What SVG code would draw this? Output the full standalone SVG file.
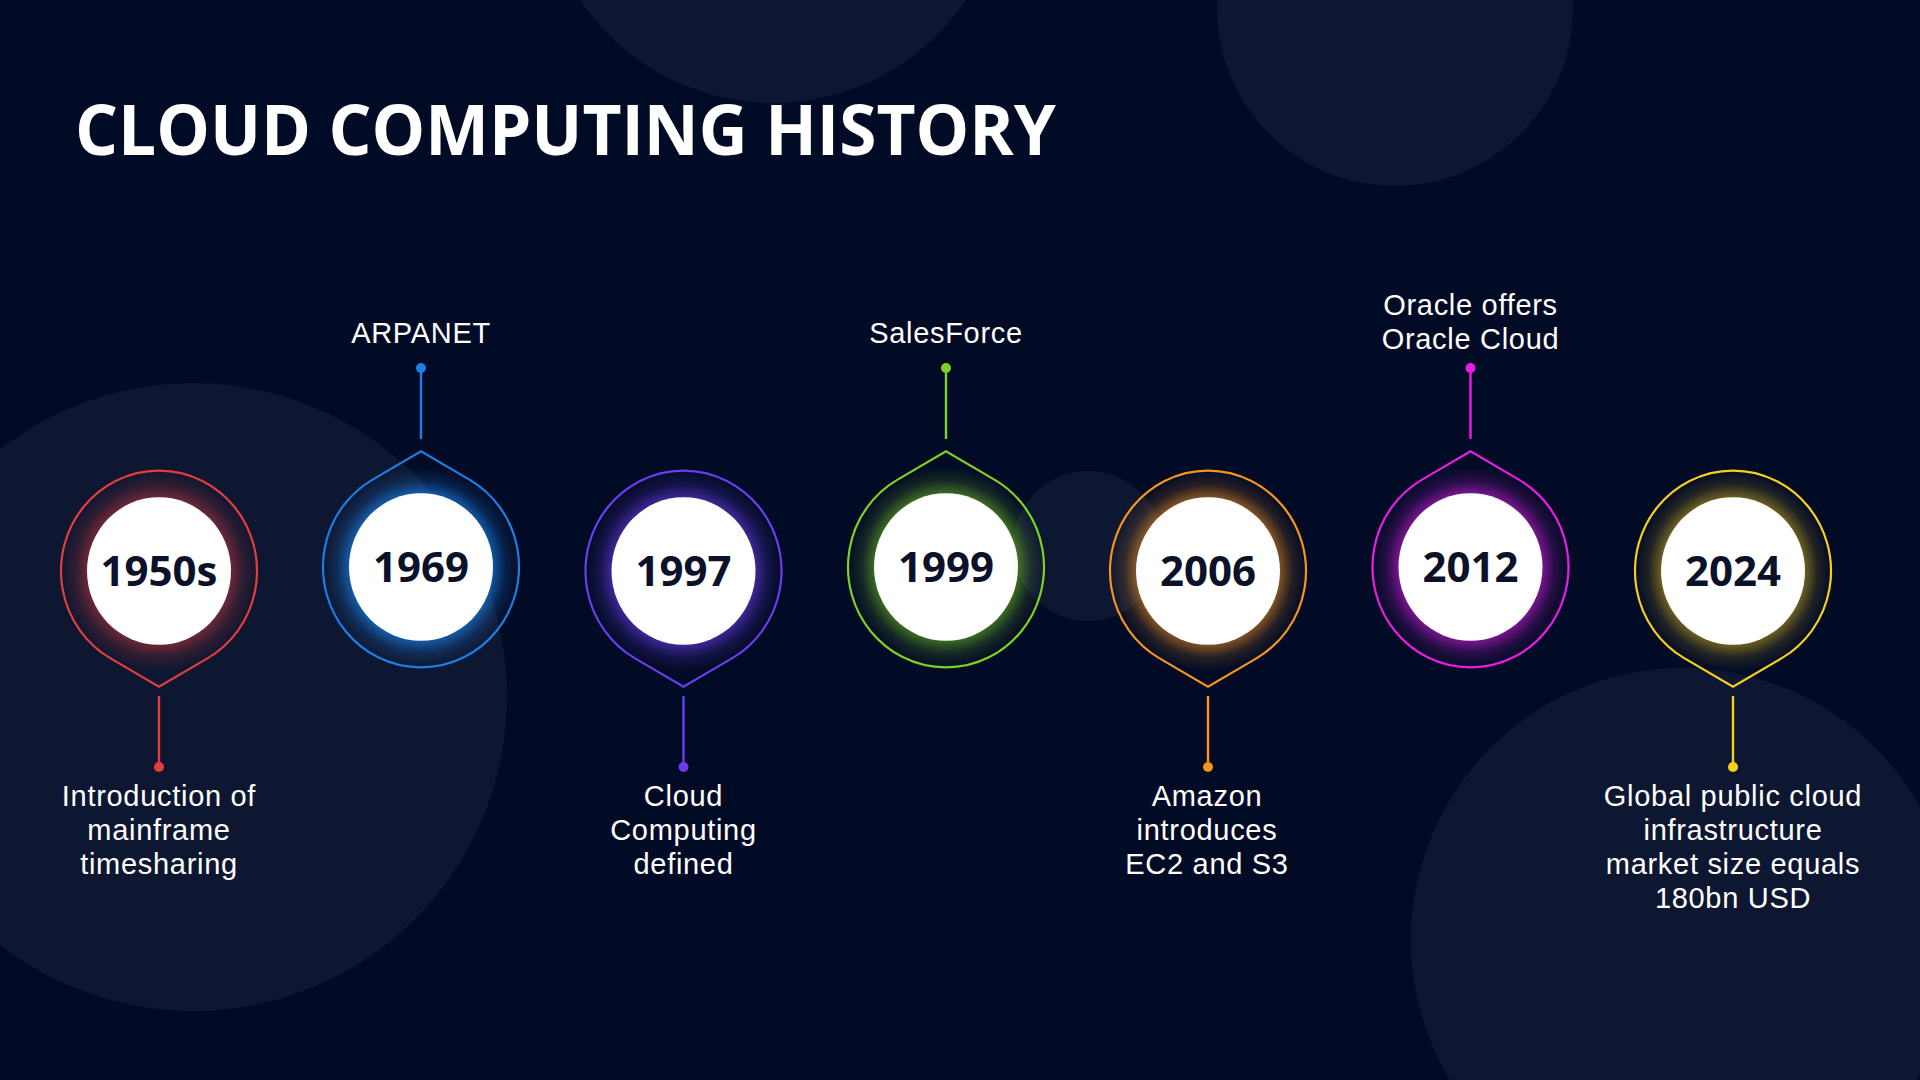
<svg xmlns="http://www.w3.org/2000/svg" width="1920" height="1080" viewBox="0 0 1920 1080">
<defs>
<style>
.title{font-family:"Open Sans","Liberation Sans",sans-serif;font-weight:700;font-size:70px;fill:#ffffff}
.year{font-family:"Open Sans","Liberation Sans",sans-serif;font-weight:700;font-size:42px;fill:#0A1128;text-anchor:middle}
.lbl{font-family:"Liberation Sans",Arial,sans-serif;font-weight:400;font-size:29px;letter-spacing:0.7px;fill:#ffffff;text-anchor:middle}
.deco{fill:#0E1731}
.white{fill:#ffffff}
.ring{stroke-width:2.2;stroke-linejoin:miter}
.conn{stroke-width:2.4;fill:none}
</style>
<radialGradient id="gRed" gradientUnits="userSpaceOnUse" cx="0" cy="0" r="98"><stop offset="0.7" stop-color="#E63C3C" stop-opacity="0.5"/><stop offset="0.86" stop-color="#E63C3C" stop-opacity="0.15"/><stop offset="1" stop-color="#E63C3C" stop-opacity="0"/></radialGradient>
<radialGradient id="gBlue" gradientUnits="userSpaceOnUse" cx="0" cy="0" r="98"><stop offset="0.7" stop-color="#1A7FE6" stop-opacity="0.75"/><stop offset="0.86" stop-color="#1A7FE6" stop-opacity="0.2"/><stop offset="1" stop-color="#1A7FE6" stop-opacity="0"/></radialGradient>
<radialGradient id="gPurple" gradientUnits="userSpaceOnUse" cx="0" cy="0" r="98"><stop offset="0.7" stop-color="#6B3CF0" stop-opacity="0.65"/><stop offset="0.86" stop-color="#6B3CF0" stop-opacity="0.18"/><stop offset="1" stop-color="#6B3CF0" stop-opacity="0"/></radialGradient>
<radialGradient id="gGreen" gradientUnits="userSpaceOnUse" cx="0" cy="0" r="98"><stop offset="0.7" stop-color="#7ED321" stop-opacity="0.55"/><stop offset="0.86" stop-color="#7ED321" stop-opacity="0.15"/><stop offset="1" stop-color="#7ED321" stop-opacity="0"/></radialGradient>
<radialGradient id="gOrange" gradientUnits="userSpaceOnUse" cx="0" cy="0" r="98"><stop offset="0.7" stop-color="#F7941D" stop-opacity="0.6"/><stop offset="0.86" stop-color="#F7941D" stop-opacity="0.15"/><stop offset="1" stop-color="#F7941D" stop-opacity="0"/></radialGradient>
<radialGradient id="gMagenta" gradientUnits="userSpaceOnUse" cx="0" cy="0" r="98"><stop offset="0.7" stop-color="#D21CE0" stop-opacity="0.65"/><stop offset="0.86" stop-color="#D21CE0" stop-opacity="0.18"/><stop offset="1" stop-color="#D21CE0" stop-opacity="0"/></radialGradient>
<radialGradient id="gYellow" gradientUnits="userSpaceOnUse" cx="0" cy="0" r="98"><stop offset="0.7" stop-color="#F8CF1A" stop-opacity="0.5"/><stop offset="0.86" stop-color="#F8CF1A" stop-opacity="0.13"/><stop offset="1" stop-color="#F8CF1A" stop-opacity="0"/></radialGradient>
<path id="pinDown" d="M -48.8,85 L 0,113 L 48.8,85 A 98 98 0 1 0 -48.8,85 Z"/>
<path id="pinUp" d="M -48.8,-85 L 0,-113 L 48.8,-85 A 98 98 0 1 1 -48.8,-85 Z"/>
</defs>

<rect x="0" y="0" width="1920" height="1080" fill="#020B25"/>

<g id="background-decor">
<circle class="deco" cx="773" cy="-129" r="232"/>
<circle class="deco" cx="1395" cy="8" r="178"/>
<circle class="deco" cx="193" cy="697" r="314"/>
<circle class="deco" cx="1683" cy="940" r="272"/>
<circle class="deco" cx="1088" cy="546" r="75"/>
</g>

<text class="title" x="75" y="155" textLength="981" lengthAdjust="spacingAndGlyphs">CLOUD COMPUTING HISTORY</text>

<g id="connectors">
<line class="conn" stroke="#E63C3C" x1="159" y1="696" x2="159" y2="767"/><circle cx="159" cy="767" r="5" fill="#E63C3C"/>
<line class="conn" stroke="#1A7FE6" x1="421" y1="439" x2="421" y2="368"/><circle cx="421" cy="368" r="5" fill="#1A7FE6"/>
<line class="conn" stroke="#6B3CF0" x1="683.5" y1="696" x2="683.5" y2="767"/><circle cx="683.5" cy="767" r="5" fill="#6B3CF0"/>
<line class="conn" stroke="#7ED321" x1="946" y1="439" x2="946" y2="368"/><circle cx="946" cy="368" r="5" fill="#7ED321"/>
<line class="conn" stroke="#F7941D" x1="1208" y1="696" x2="1208" y2="767"/><circle cx="1208" cy="767" r="5" fill="#F7941D"/>
<line class="conn" stroke="#EE1BE6" x1="1470.5" y1="439" x2="1470.5" y2="368"/><circle cx="1470.5" cy="368" r="5" fill="#EE1BE6"/>
<line class="conn" stroke="#F8CF1A" x1="1733" y1="696" x2="1733" y2="767"/><circle cx="1733" cy="767" r="5" fill="#F8CF1A"/>
</g>

<g id="node-1950s">
<g transform="translate(159,571) scale(1,1.025)">
<use href="#pinDown" class="ring" fill="url(#gRed)" stroke="#E63C3C"/>
<circle class="white" cx="0" cy="0" r="72"/>
</g>
<text class="year" x="159" y="586">1950s</text>
<text class="lbl" x="159" y="806">Introduction of</text>
<text class="lbl" x="159" y="840">mainframe</text>
<text class="lbl" x="159" y="874">timesharing</text>
</g>

<g id="node-1969">
<g transform="translate(421,567) scale(1,1.025)">
<use href="#pinUp" class="ring" fill="url(#gBlue)" stroke="#1A7FE6"/>
<circle class="white" cx="0" cy="0" r="72"/>
</g>
<text class="year" x="421" y="582">1969</text>
<text class="lbl" x="421" y="343">ARPANET</text>
</g>

<g id="node-1997">
<g transform="translate(683.5,571) scale(1,1.025)">
<use href="#pinDown" class="ring" fill="url(#gPurple)" stroke="#6B3CF0"/>
<circle class="white" cx="0" cy="0" r="72"/>
</g>
<text class="year" x="683.5" y="586">1997</text>
<text class="lbl" x="683.5" y="806">Cloud</text>
<text class="lbl" x="683.5" y="840">Computing</text>
<text class="lbl" x="683.5" y="874">defined</text>
</g>

<g id="node-1999">
<g transform="translate(946,567) scale(1,1.025)">
<use href="#pinUp" class="ring" fill="url(#gGreen)" stroke="#7ED321"/>
<circle class="white" cx="0" cy="0" r="72"/>
</g>
<text class="year" x="946" y="582">1999</text>
<text class="lbl" x="946" y="343">SalesForce</text>
</g>

<g id="node-2006">
<g transform="translate(1208,571) scale(1,1.025)">
<use href="#pinDown" class="ring" fill="url(#gOrange)" stroke="#F7941D"/>
<circle class="white" cx="0" cy="0" r="72"/>
</g>
<text class="year" x="1208" y="586">2006</text>
<text class="lbl" x="1207" y="806">Amazon</text>
<text class="lbl" x="1207" y="840">introduces</text>
<text class="lbl" x="1207" y="874">EC2 and S3</text>
</g>

<g id="node-2012">
<g transform="translate(1470.5,567) scale(1,1.025)">
<use href="#pinUp" class="ring" fill="url(#gMagenta)" stroke="#EE1BE6"/>
<circle class="white" cx="0" cy="0" r="72"/>
</g>
<text class="year" x="1470.5" y="582">2012</text>
<text class="lbl" x="1470.5" y="315">Oracle offers</text>
<text class="lbl" x="1470.5" y="349">Oracle Cloud</text>
</g>

<g id="node-2024">
<g transform="translate(1733,571) scale(1,1.025)">
<use href="#pinDown" class="ring" fill="url(#gYellow)" stroke="#F8CF1A"/>
<circle class="white" cx="0" cy="0" r="72"/>
</g>
<text class="year" x="1733" y="586">2024</text>
<text class="lbl" x="1733" y="806">Global public cloud</text>
<text class="lbl" x="1733" y="840">infrastructure</text>
<text class="lbl" x="1733" y="874">market size equals</text>
<text class="lbl" x="1733" y="908">180bn USD</text>
</g>
</svg>
